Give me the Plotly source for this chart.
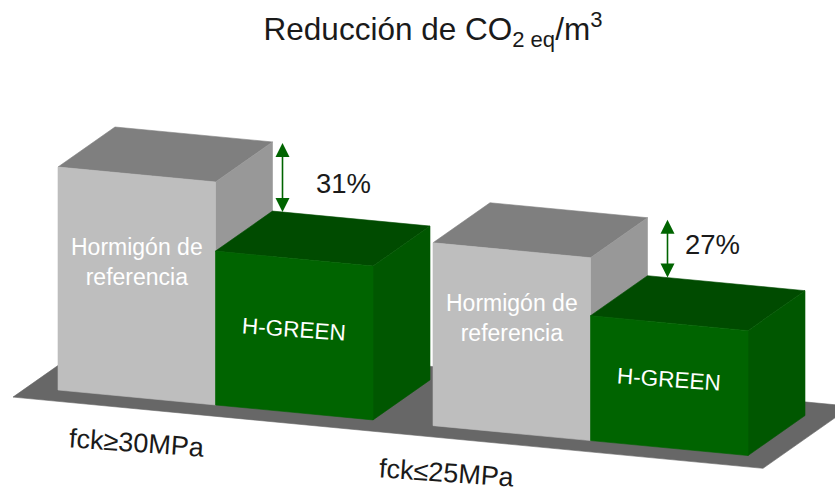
import plotly.graph_objects as go

# ---------------- data ----------------
categories = ["fck≥30MPa", "fck≤25MPa"]
series_names = ["Hormigón de<br>referencia", "H-GREEN"]
reference_values = [100, 82]   # relative CO2eq per m3 (reference concrete)
hgreen_values = [69, 56]       # relative CO2eq per m3 (H-GREEN)
reduction_labels = ["31%", "27%"]
title_text = "Reducción de CO<sub>2 eq</sub>/m<sup>3</sup>"

# ---------------- layout / projection constants ----------------
W, H = 835, 495
X0 = 58.0            # left edge of first front face
BAR_W = 157.5
GROUP_STEP = 375.0
BASE_Y = 390.0       # baseline of front faces at X0
TILT = 0.095         # slope of the baseline
DEPTH_DX, DEPTH_DY = 57.0, 40.0
SCALE = 2.23         # px per value unit
FLOOR_PAD_L, FLOOR_PAD_R = 30.75, 29.25
FLOOR_Z = (-0.25, 1.3)
ARROW_OFF = [10, 20]
HEAD_W, HEAD_L = 7.0, 14.0
PCT_OFF = [(61, 6), (45, -4)]
CAT_OFF = [(78.5, 46), (14, 46)]

REF_COL = dict(front="#BEBEBE", top="#7F7F7F", side="#989898")
GRN_COL = dict(front="#006400", top="#004B00", side="#005700")
ARROW_COL = "#006400"
FLOOR_COL = "#676767"
FONT = "Liberation Sans, Arial, sans-serif"


def proj(X, Z, h):
    return X + DEPTH_DX * Z, BASE_Y + TILT * (X - X0) - DEPTH_DY * Z - SCALE * h


fig = go.Figure()


def poly(pts, color):
    xs, ys = zip(*[proj(*p) for p in pts])
    fig.add_trace(go.Scatter(x=list(xs) + [xs[0]], y=list(ys) + [ys[0]], mode="lines",
                             fill="toself", fillcolor=color,
                             line=dict(color=color, width=0.6),
                             hoverinfo="skip", showlegend=False))


def box(x0, x1, h, col):
    poly([(x0, 0, h), (x1, 0, h), (x1, 1, h), (x0, 1, h)], col["top"])
    poly([(x1, 0, 0), (x1, 1, 0), (x1, 1, h), (x1, 0, h)], col["side"])
    poly([(x0, 0, 0), (x1, 0, 0), (x1, 0, h), (x0, 0, h)], col["front"])


# floor
last_right = X0 + GROUP_STEP * (len(categories) - 1) + 2 * BAR_W
fl, fr = X0 - FLOOR_PAD_L, last_right + FLOOR_PAD_R
poly([(fl, FLOOR_Z[0], 0), (fr, FLOOR_Z[0], 0), (fr, FLOOR_Z[1], 0), (fl, FLOOR_Z[1], 0)], FLOOR_COL)

annotations = []
shapes = []
for i, cat in enumerate(categories):
    gx = X0 + GROUP_STEP * i
    rv, gv = reference_values[i], hgreen_values[i]
    box(gx, gx + BAR_W, rv, REF_COL)
    box(gx + BAR_W, gx + 2 * BAR_W, gv, GRN_COL)

    # series labels on front faces
    lx, ly = proj(gx + BAR_W / 2, 0, rv / 2)
    annotations.append(dict(x=lx, y=ly - 24, text=series_names[0], showarrow=False,
                            font=dict(family=FONT, size=23, color="white"),
                            xanchor="center", yanchor="middle"))
    gx2, gy2 = proj(gx + 1.5 * BAR_W, 0, gv / 2)
    annotations.append(dict(x=gx2, y=gy2 - 6, text=series_names[1], showarrow=False,
                            textangle=4,
                            font=dict(family=FONT, size=22.5, color="white"),
                            xanchor="center", yanchor="middle"))

    # double arrow between the two heights
    ax_, top_y = proj(gx + BAR_W + ARROW_OFF[i], 1, rv)
    _, bot_y = proj(gx + BAR_W + ARROW_OFF[i], 1, gv)
    shapes.append(dict(type="line", xref="x", yref="y", x0=ax_, x1=ax_,
                       y0=top_y + HEAD_L - 1, y1=bot_y - HEAD_L + 1,
                       line=dict(color=ARROW_COL, width=1.6)))
    shapes.append(dict(type="path", xref="x", yref="y", fillcolor=ARROW_COL,
                       line=dict(width=0),
                       path=f"M{ax_},{top_y} L{ax_ - HEAD_W},{top_y + HEAD_L} "
                            f"L{ax_ + HEAD_W},{top_y + HEAD_L} Z"))
    shapes.append(dict(type="path", xref="x", yref="y", fillcolor=ARROW_COL,
                       line=dict(width=0),
                       path=f"M{ax_},{bot_y} L{ax_ - HEAD_W},{bot_y - HEAD_L} "
                            f"L{ax_ + HEAD_W},{bot_y - HEAD_L} Z"))
    annotations.append(dict(x=ax_ + PCT_OFF[i][0], y=(top_y + bot_y) / 2 + PCT_OFF[i][1],
                            text=reduction_labels[i], showarrow=False,
                            font=dict(family=FONT, size=27.5, color="#1a1a1a"),
                            xanchor="center", yanchor="middle"))

    # category label
    cx, cy = proj(gx + CAT_OFF[i][0], 0, 0)
    annotations.append(dict(x=cx, y=cy + CAT_OFF[i][1], text=cat, showarrow=False,
                            textangle=4,
                            font=dict(family=FONT, size=27, color="#1a1a1a"),
                            xanchor="center", yanchor="middle"))

fig.update_layout(
    width=W, height=H, margin=dict(l=0, r=0, t=0, b=0),
    paper_bgcolor="white", plot_bgcolor="white",
    xaxis=dict(range=[0, W], visible=False, fixedrange=True),
    yaxis=dict(range=[H, 0], visible=False, fixedrange=True),
    title=dict(text=title_text, x=433 / W, y=1 - 29 / H, xanchor="center", yanchor="middle",
               xref="paper", yref="container",
               font=dict(family=FONT, size=31.5, color="#1a1a1a")),
    annotations=annotations,
    shapes=shapes,
    showlegend=False,
)

fig.write_html("out.html", config={"displayModeBar": False},
               post_script="document.body.style.margin='0';")
